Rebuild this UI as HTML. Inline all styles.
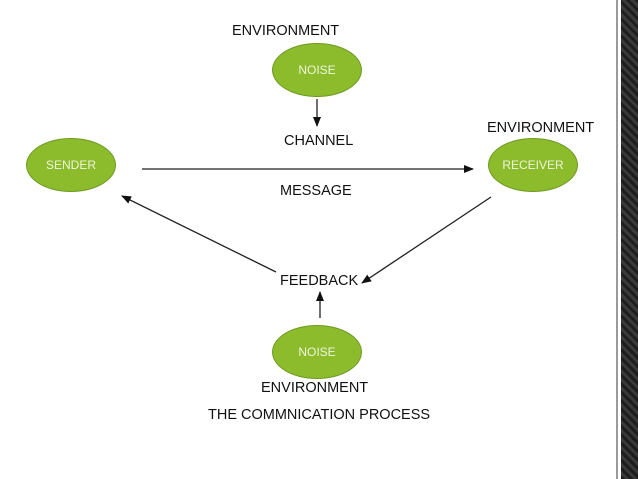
<!DOCTYPE html>
<html><head><style>
body{margin:0;width:638px;height:479px;overflow:hidden;background:#fff;position:relative;font-family:"Liberation Sans",sans-serif}
.t{position:absolute;font-size:14.5px;color:#111;white-space:nowrap}
.e{position:absolute;width:90px;height:54px;border-radius:50%;background:#8cbb2c;border:1px solid #6e9a22;color:#eef6dc;font-size:12px;display:flex;align-items:center;justify-content:center;box-sizing:border-box}
.bar{position:absolute;left:621px;top:0;width:17px;height:479px;background:repeating-linear-gradient(45deg,#1e1e1e 0 3px,#3a3a3a 3px 6px)}
.ln{position:absolute;left:616px;top:0;width:2px;height:479px;background:#9a9a9a}
</style></head><body>
<div class="ln"></div><div class="bar"></div>
<div class="e" style="left:26px;top:138px">SENDER</div>
<div class="e" style="left:272px;top:43px">NOISE</div>
<div class="e" style="left:488px;top:138px">RECEIVER</div>
<div class="e" style="left:272px;top:325px">NOISE</div>
<div class="t" style="left:232px;top:23px">ENVIRONMENT</div>
<div class="t" style="left:284px;top:133px">CHANNEL</div>
<div class="t" style="left:487px;top:120px">ENVIRONMENT</div>
<div class="t" style="left:280px;top:183px">MESSAGE</div>
<div class="t" style="left:280px;top:273px">FEEDBACK</div>
<div class="t" style="left:261px;top:380px">ENVIRONMENT</div>
<div class="t" style="left:208px;top:407px">THE COMMNICATION PROCESS</div>
<svg width="638" height="479" style="position:absolute;left:0;top:0">
<defs><marker id="a" markerWidth="10" markerHeight="8" refX="9" refY="4" orient="auto" markerUnits="userSpaceOnUse"><path d="M0,0L10,4L0,8z" fill="#111"/></marker></defs>
<g stroke="#222" stroke-width="1.3" marker-end="url(#a)">
<line x1="317" y1="99" x2="317" y2="126"/>
<line x1="142" y1="169" x2="473" y2="169"/>
<line x1="491" y1="197" x2="362" y2="283"/>
<line x1="276" y1="272" x2="122" y2="196"/>
<line x1="320" y1="318" x2="320" y2="292"/>
</g></svg>
</body></html>
